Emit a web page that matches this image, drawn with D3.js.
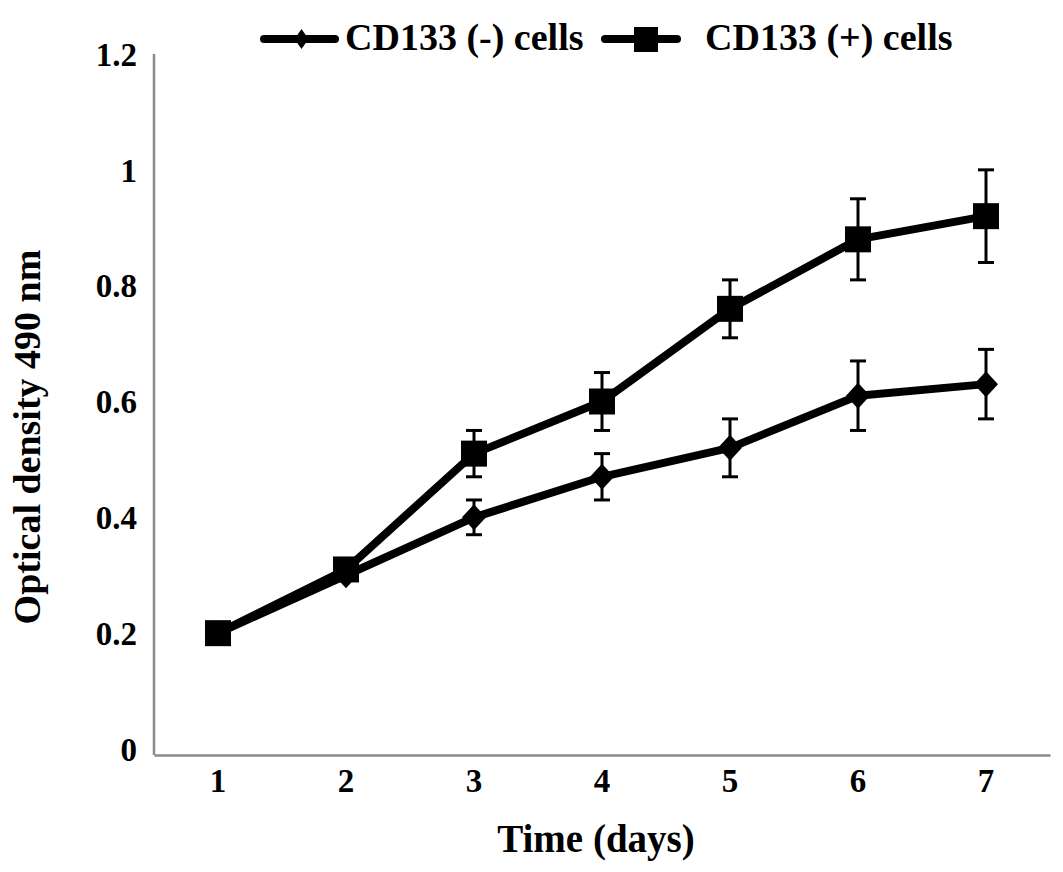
<!DOCTYPE html>
<html>
<head>
<meta charset="utf-8">
<script src="https://cdn.jsdelivr.net/npm/d3@7"></script>
<style>
  body { margin: 0; background: #fff; }
  text { font-family: "Liberation Serif", "Times New Roman", serif; font-weight: bold; fill: #000; }
</style>
</head>
<body>
<div id="chart-area"></div>
<script>
const W = 1063, H = 872;
const margin = {top: 54, right: 13, bottom: 117, left: 154},
    width = W - margin.left - margin.right,
    height = H - margin.top - margin.bottom;

//--------------------------- DATA
const days = [1, 2, 3, 4, 5, 6, 7];
const negMean = [0.20, 0.30, 0.40, 0.47, 0.52, 0.61, 0.63];
const negErr  = [0.00, 0.00, 0.03, 0.04, 0.05, 0.06, 0.06];
const posMean = [0.20, 0.31, 0.51, 0.60, 0.76, 0.88, 0.92];
const posErr  = [0.00, 0.00, 0.04, 0.05, 0.05, 0.07, 0.08];
const yTicks = [0, 0.2, 0.4, 0.6, 0.8, 1, 1.2];
const seriesNames = ["CD133 (-) cells", "CD133 (+) cells"];

const series = [
  {name: seriesNames[0], marker: "diamond", values: days.map((d, i) => ({day: d, v: negMean[i], e: negErr[i]}))},
  {name: seriesNames[1], marker: "square",  values: days.map((d, i) => ({day: d, v: posMean[i], e: posErr[i]}))}
];

//--------------------------- SVG
const svg = d3.select("#chart-area")
  .append("svg")
    .attr("width", W)
    .attr("height", H);

const g = svg.append("g")
    .attr("transform", `translate(${margin.left}, ${margin.top})`);

//--------------------------- SCALES
const x = d3.scaleBand()
  .domain(days)
  .range([0, width]);

const y = d3.scaleLinear()
  .domain([0, 1.2])
  .range([height - 6, 0]);

const cx = d => x(d) + x.bandwidth() / 2;

// diamond path with half width / half height
function diamond(hw, hh) {
  return `M0,${-hh}L${hw},0L0,${hh}L${-hw},0Z`;
}

//--------------------------- AXES
const yAxis = g.append("g")
  .call(d3.axisLeft(y).tickValues(yTicks).tickSize(0).tickPadding(17)
    .tickFormat(d => d3.format("~g")(d)));
yAxis.select(".domain").attr("stroke", "#8a8a8a").attr("stroke-width", 2.5)
  .attr("d", `M0,${height}V0`);
yAxis.selectAll("text").attr("font-size", 33).attr("dy", "0.34em");

const xAxis = g.append("g")
  .attr("transform", `translate(0, ${height})`)
  .call(d3.axisBottom(x).tickSize(0).tickPadding(14));
xAxis.select(".domain").attr("stroke", "#8a8a8a").attr("stroke-width", 2.5);
xAxis.selectAll("text").attr("font-size", 33);

// axis titles
svg.append("text")
  .attr("transform", `translate(40, ${437}) rotate(-90)`)
  .attr("text-anchor", "middle")
  .attr("font-size", 38)
  .text("Optical density 490 nm");

svg.append("text")
  .attr("x", 596)
  .attr("y", 852)
  .attr("text-anchor", "middle")
  .attr("font-size", 39)
  .text("Time (days)");

//--------------------------- LINES
const line = d3.line()
  .x(d => cx(d.day))
  .y(d => y(d.v));

const sg = g.selectAll(".series")
  .data(series)
  .join("g")
    .attr("class", "series");

sg.append("path")
  .attr("d", d => line(d.values))
  .attr("fill", "none")
  .attr("stroke", "#000")
  .attr("stroke-width", 8)
  .attr("stroke-linejoin", "round");

// error bars
const eb = sg.selectAll(".err")
  .data(d => d.values.filter(p => p.e > 0))
  .join("g")
    .attr("class", "err")
    .attr("stroke", "#000")
    .attr("stroke-width", 3);

eb.append("line")
  .attr("x1", d => cx(d.day)).attr("x2", d => cx(d.day))
  .attr("y1", d => y(d.v + d.e)).attr("y2", d => y(d.v - d.e));
eb.append("line")
  .attr("x1", d => cx(d.day) - 8).attr("x2", d => cx(d.day) + 8)
  .attr("y1", d => y(d.v + d.e)).attr("y2", d => y(d.v + d.e));
eb.append("line")
  .attr("x1", d => cx(d.day) - 8).attr("x2", d => cx(d.day) + 8)
  .attr("y1", d => y(d.v - d.e)).attr("y2", d => y(d.v - d.e));

// markers
sg.each(function(s) {
  const sel = d3.select(this).selectAll(".mk")
    .data(s.values)
    .join("path")
      .attr("class", "mk")
      .attr("transform", d => `translate(${cx(d.day)},${y(d.v)})`)
      .attr("fill", "#000");
  if (s.marker === "square") sel.attr("d", "M-13,-13H13V13H-13Z");
  else sel.attr("d", diamond(12, 13));
});

//--------------------------- LEGEND
const legend = [
  {x0: 264, x1: 335, tx: 345, marker: "diamond"},
  {x0: 605, x1: 677, tx: 705, marker: "square"}
];

const lg = svg.selectAll(".legend")
  .data(series)
  .join("g")
    .attr("class", "legend");

lg.append("line")
  .attr("x1", (d, i) => legend[i].x0).attr("x2", (d, i) => legend[i].x1)
  .attr("y1", 39).attr("y2", 39)
  .attr("stroke", "#000").attr("stroke-width", 8).attr("stroke-linecap", "round");

lg.append("path")
  .attr("transform", (d, i) => `translate(${(legend[i].x0 + legend[i].x1) / 2 + (i ? 5 : 2)}, 39)`)
  .attr("d", (d, i) => legend[i].marker === "square" ? "M-12,-12H12V13H-12Z" : diamond(7, 10))
  .attr("fill", "#000");

lg.append("text")
  .attr("x", (d, i) => legend[i].tx)
  .attr("y", 50)
  .attr("font-size", 38)
  .text(d => d.name);
</script>
</body>
</html>
